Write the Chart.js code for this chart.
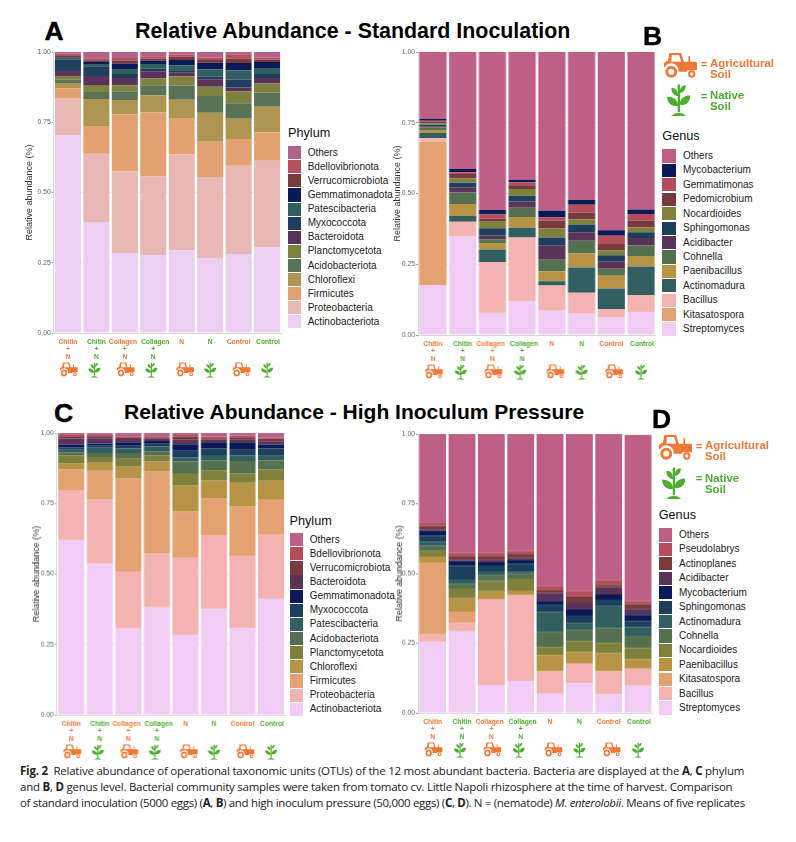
<!DOCTYPE html>
<html>
<head>
<meta charset="utf-8">
<title>Relative abundance</title>
<script src="https://cdn.jsdelivr.net/npm/chart.js@4"></script>
<style>
  html, body { margin: 0; padding: 0; background: #fff; }
  body { position: relative; width: 796px; height: 842px; overflow: hidden; font-family: "Liberation Sans", Arial, sans-serif; }
  canvas { position: absolute; }
  .txt { position: absolute; white-space: nowrap; line-height: 1; transform: translateY(-50%); }
  .head { font-weight: bold; font-size: 21.4px; color: #000; }
  .letter { font-weight: bold; font-size: 26.5px; color: #000; -webkit-text-stroke: 0.4px #000; }
  .swatch { position: absolute; }
  .soil { font-weight: bold; font-size: 11.4px; }
  .cap { font-family: "Open Sans", sans-serif; font-size: 11.5px; color: #222; }
  svg { position: absolute; }
</style>
</head>
<body>
<script>
const samples = [['Chitin', '+', 'N'], ['Chitin', '+', 'N'], ['Collagen', '+', 'N'], ['Collagen', '+', 'N'], 'N', 'N', 'Control', 'Control'];
const soils = ['ag', 'nat', 'ag', 'nat', 'ag', 'nat', 'ag', 'nat'];
const yTicks = [0, 0.25, 0.5, 0.75, 1];

// panel A, phylum, standard inoculation
const aActinobacteriota = [.705, .395, .285, .278, .294, .267, .281, .306];
const aProteobacteria = [.129, .243, .290, .279, .341, .288, .314, .307];
const aFirmicutes = [.037, .099, .204, .228, .128, .126, .096, .102];
const aChloroflexi = [.019, .096, .050, .061, .067, .103, .074, .090];
const aAcidobacteriota = [.012, .025, .032, .036, .051, .060, .053, .051];
const aPlanctomycetota = [.013, .022, .021, .024, .033, .033, .042, .032];
const aBacteroidota = [.018, .035, .026, .026, .012, .026, .014, .020];
const aMyxococcota = [.040, .035, .014, .009, .007, .010, .028, .014];
const aPatescibacteria = [.003, .008, .018, .017, .020, .026, .032, .021];
const aGemmatimonadota = [.005, .007, .019, .011, .019, .023, .027, .022];
const aVerrucomicrobiota = [.008, .006, .010, .007, .011, .010, .015, .009];
const aBdellovibrionota = [.006, .007, .010, .009, .008, .009, .016, .007];
const aOthers = [.005, .022, .021, .015, .009, .019, .008, .019];

// panel B, genus, standard inoculation
const bStreptomyces = [.175, .350, .079, .120, .087, .075, .063, .081];
const bKitasatospora = [.509, .002, .001, .001, .001, .001, .001, .001];
const bBacillus = [.011, .048, .178, .224, .087, .073, .028, .059];
const bActinomadura = [.019, .021, .044, .034, .015, .090, .072, .101];
const bPaenibacillus = [.011, .042, .023, .038, .035, .049, .045, .037];
const bCohnella = [.009, .041, .013, .033, .041, .045, .025, .037];
const bAcidibacter = [.004, .018, .014, .022, .051, .030, .027, .027];
const bSphingomonas = [.005, .016, .025, .020, .028, .028, .021, .020];
const bNocardioides = [.005, .016, .026, .024, .031, .017, .017, .017];
const bPedomicrobium = [.006, .015, .008, .013, .029, .025, .023, .025];
const bGemmatimonas = [.003, .006, .015, .011, .010, .027, .029, .023];
const bMycobacterium = [.007, .012, .016, .009, .024, .017, .019, .016];
const bOthers = [.236, .414, .558, .451, .561, .523, .630, .556];

// panel C, phylum, high inoculum
const cActinobacteriota = [.620, .537, .307, .382, .285, .376, .310, .412];
const cProteobacteria = [.177, .227, .202, .189, .274, .260, .256, .227];
const cFirmicutes = [.073, .102, .329, .292, .163, .131, .173, .124];
const cChloroflexi = [.0215, .028, .042, .036, .092, .064, .084, .067];
const cPlanctomycetota = [.0285, .021, .029, .021, .044, .037, .033, .040];
const cAcidobacteriota = [.012, .014, .020, .015, .041, .035, .045, .032];
const cPatescibacteria = [.009, .019, .016, .018, .014, .019, .019, .017];
const cMyxococcota = [.009, .007, .010, .009, .024, .024, .021, .026];
const cGemmatimonadota = [.009, .008, .012, .010, .023, .019, .024, .014];
const cBacteroidota = [.022, .019, .012, .008, .016, .011, .013, .012];
const cVerrucomicrobiota = [.008, .007, .006, .005, .011, .006, .007, .009];
const cBdellovibrionota = [.004, .004, .004, .004, .006, .006, .006, .003];
const cOthers = [.007, .007, .011, .011, .007, .012, .009, .017];

// panel D, genus, high inoculum
const dStreptomyces = [.254, .292, .101, .115, .069, .107, .067, .098];
const dBacillus = [.028, .031, .306, .306, .079, .069, .081, .060];
const dKitasatospora = [.258, .040, .003, .002, .001, .001, .001, .001];
const dPaenibacillus = [.021, .048, .026, .016, .059, .042, .066, .034];
const dNocardioides = [.019, .035, .037, .043, .029, .039, .036, .040];
const dCohnella = [.020, .017, .021, .017, .052, .038, .054, .044];
const dActinomadura = [.014, .016, .013, .007, .073, .027, .077, .031];
const dSphingomonas = [.021, .048, .022, .029, .024, .026, .025, .022];
const dMycobacterium = [.019, .017, .011, .015, .016, .022, .018, .022];
const dAcidibacter = [.004, .006, .010, .005, .028, .025, .027, .021];
const dActinoplanes = [.013, .012, .012, .016, .012, .023, .008, .017];
const dPseudolabrys = [.009, .011, .012, .010, .014, .017, .016, .011];
const dOthers = [.320, .427, .426, .419, .544, .564, .524, .596];

// bottom to top of the stack
const stackA = [['Actinobacteriota', aActinobacteriota], ['Proteobacteria', aProteobacteria], ['Firmicutes', aFirmicutes], ['Chloroflexi', aChloroflexi], ['Acidobacteriota', aAcidobacteriota], ['Planctomycetota', aPlanctomycetota], ['Bacteroidota', aBacteroidota], ['Myxococcota', aMyxococcota], ['Patescibacteria', aPatescibacteria], ['Gemmatimonadota', aGemmatimonadota], ['Verrucomicrobiota', aVerrucomicrobiota], ['Bdellovibrionota', aBdellovibrionota], ['Others', aOthers]];
const stackB = [['Streptomyces', bStreptomyces], ['Kitasatospora', bKitasatospora], ['Bacillus', bBacillus], ['Actinomadura', bActinomadura], ['Paenibacillus', bPaenibacillus], ['Cohnella', bCohnella], ['Acidibacter', bAcidibacter], ['Sphingomonas', bSphingomonas], ['Nocardioides', bNocardioides], ['Pedomicrobium', bPedomicrobium], ['Gemmatimonas', bGemmatimonas], ['Mycobacterium', bMycobacterium], ['Others', bOthers]];
const stackC = [['Actinobacteriota', cActinobacteriota], ['Proteobacteria', cProteobacteria], ['Firmicutes', cFirmicutes], ['Chloroflexi', cChloroflexi], ['Planctomycetota', cPlanctomycetota], ['Acidobacteriota', cAcidobacteriota], ['Patescibacteria', cPatescibacteria], ['Myxococcota', cMyxococcota], ['Gemmatimonadota', cGemmatimonadota], ['Bacteroidota', cBacteroidota], ['Verrucomicrobiota', cVerrucomicrobiota], ['Bdellovibrionota', cBdellovibrionota], ['Others', cOthers]];
const stackD = [['Streptomyces', dStreptomyces], ['Bacillus', dBacillus], ['Kitasatospora', dKitasatospora], ['Paenibacillus', dPaenibacillus], ['Nocardioides', dNocardioides], ['Cohnella', dCohnella], ['Actinomadura', dActinomadura], ['Sphingomonas', dSphingomonas], ['Mycobacterium', dMycobacterium], ['Acidibacter', dAcidibacter], ['Actinoplanes', dActinoplanes], ['Pseudolabrys', dPseudolabrys], ['Others', dOthers]];

const coloursA = ['#EBCEF2', '#E8B8B4', '#E3A172', '#AF9552', '#5A7255', '#7F813F', '#5A3358', '#1F3F5E', '#315F60', '#0A1A58', '#783A3C', '#B74F5F', '#B3628A'];
const coloursB = ['#F1CCF5', '#E4A272', '#F2B3B1', '#315F60', '#B79345', '#54704F', '#5A3358', '#1C3F5E', '#80803D', '#783A3C', '#B54D5C', '#0A1A58', '#BE5F86'];
const coloursC = ['#F1CCF5', '#F2B3B1', '#E4A272', '#B79345', '#80803D', '#54704F', '#315F60', '#1C3F5E', '#0A1A58', '#5A3358', '#783A3C', '#B54D5C', '#BE5F86'];
const coloursD = coloursC;

const ORANGE = '#EF7836';
const GREEN = '#4CAD2E';

// icon outlines, tractor on 100x75, plant on 70x100
const tractorPaths = [
  'M16 0H52L60 26H74V10H79V26H98L100 30V52H72A13 13 0 0 0 68 56H44A22 22 0 0 0 2 44L0 42V30L8 24H12ZM24 6H46L52 26H22Z',
  'M4 56a18 18 0 1 0 36 0a18 18 0 1 0-36 0ZM13 56a9 9 0 1 0 18 0a9 9 0 1 0-18 0Z',
  'M73 63a11 11 0 1 0 22 0a11 11 0 1 0-22 0ZM79 63a5 5 0 1 0 10 0a5 5 0 1 0-10 0Z'
];
const plantPaths = [
  'M32 12H39V88H32Z',
  'M12 100Q35 80 58 100Z',
  'M33 68C18 72 2 64 0 40C18 38 33 50 33 68Z',
  'M38 64C52 70 68 60 70 36C52 34 38 46 38 64Z',
  'M33 38C22 38 13 28 13 12C28 12 33 24 33 38Z',
  'M38 28C48 28 56 18 56 4C44 4 38 14 38 28Z',
  'M35 16C29 10 31 3 36 0C41 4 41 10 35 16Z'
];

// small sideways shift of the icons under each bar
const iconShift = [1, -2, 1, -2, 3.5, 0, 3, 0];
// spaces in front of (+) or behind (-) the first label line, keeps the Collagen pair apart
const labelPad = [0, 0, -2, 2, 0, 0, 0, 1];

const iconPlugin = {
  id: 'soilIcons',
  afterDraw(chart) {
    const ctx = chart.ctx;
    const xs = chart.scales.x;
    const y0 = chart.chartArea.bottom + 29.5;
    soils.forEach((soil, i) => {
      const cx = xs.getPixelForValue(i) + iconShift[i];
      const isAg = soil === 'ag';
      const w = isAg ? 17.5 : 12;
      const h = isAg ? 14 : 15;
      ctx.save();
      ctx.translate(cx - w / 2, y0);
      ctx.scale(w / (isAg ? 100 : 70), h / (isAg ? 75 : 100));
      ctx.fillStyle = isAg ? ORANGE : GREEN;
      (isAg ? tractorPaths : plantPaths).forEach(d => ctx.fill(new Path2D(d), 'evenodd'));
      ctx.restore();
    });
  }
};

function tickLabel(i) {
  const raw = samples[i];
  const lines = Array.isArray(raw) ? raw.slice() : [raw];
  const pad = ' '.repeat(Math.abs(labelPad[i]));
  lines[0] = labelPad[i] > 0 ? pad + lines[0] : lines[0] + pad;
  return lines;
}

function addText(text, x, y, cls, extra) {
  const el = document.createElement('div');
  el.className = 'txt ' + cls;
  el.innerHTML = text;
  el.style.left = x + 'px';
  el.style.top = y + 'px';
  if (extra) Object.assign(el.style, extra);
  document.body.appendChild(el);
  return el;
}

function addIcon(paths, vw, vh, x, y, w, h, colour) {
  const svg = document.createElementNS('http://www.w3.org/2000/svg', 'svg');
  svg.setAttribute('viewBox', `0 0 ${vw} ${vh}`);
  svg.setAttribute('width', w);
  svg.setAttribute('height', h);
  svg.setAttribute('preserveAspectRatio', 'none');
  svg.style.left = x + 'px';
  svg.style.top = y + 'px';
  paths.forEach(d => {
    const p = document.createElementNS('http://www.w3.org/2000/svg', 'path');
    p.setAttribute('d', d);
    p.setAttribute('fill', colour);
    p.setAttribute('fill-rule', 'evenodd');
    svg.appendChild(p);
  });
  document.body.appendChild(svg);
}

function drawPanel(stack, colours, box) {
  const canvas = document.createElement('canvas');
  const left = box.titleX - 6;
  const top = box.top - 4;
  const width = box.right - left + 2;
  const height = box.bottom - top + 48;
  canvas.width = width;
  canvas.height = height;
  canvas.style.left = left + 'px';
  canvas.style.top = top + 'px';
  canvas.style.width = width + 'px';
  canvas.style.height = height + 'px';
  document.body.appendChild(canvas);

  new Chart(canvas, {
    type: 'bar',
    data: {
      labels: samples,
      datasets: stack.map((s, i) => ({
        label: s[0],
        data: s[1],
        backgroundColor: colours[i],
        borderWidth: 0,
        categoryPercentage: 1,
        barPercentage: 0.915
      }))
    },
    plugins: [iconPlugin],
    options: {
      responsive: false,
      animation: false,
      devicePixelRatio: 1,
      layout: { padding: { top: 4, right: 2, left: 0, bottom: 0 } },
      plugins: { legend: { display: false }, tooltip: { enabled: false } },
      scales: {
        x: {
          stacked: true,
          grid: { display: false, drawTicks: false },
          border: { color: '#d8d8d8' },
          afterFit: scale => { scale.height = 48; },
          ticks: {
            autoSkip: false,
            maxRotation: 0,
            padding: 5,
            font: { family: '"Liberation Sans"', size: 6.7, weight: 'bold', lineHeight: 1.15 },
            color: ctx => soils[ctx.index] === 'ag' ? ORANGE : GREEN,
            callback: (v, i) => tickLabel(i)
          }
        },
        y: {
          stacked: true,
          min: 0,
          max: 1,
          afterFit: scale => { scale.width = box.left - left; },
          afterBuildTicks: scale => { scale.ticks = yTicks.map(v => ({ value: v })); },
          title: {
            display: true,
            text: 'Relative abundance (%)',
            font: { family: '"Liberation Sans"', size: 9 },
            color: '#333',
            padding: 0
          },
          grid: { color: '#efefef', tickColor: '#999', tickLength: 2 },
          border: { color: '#d8d8d8' },
          ticks: {
            padding: 1,
            font: { family: '"Liberation Sans"', size: 6.8 },
            color: '#666',
            callback: v => v.toFixed(2)
          }
        }
      }
    }
  });

  // legend, top entry is the top of the stack
  addText(box.legendTitle, box.legendX, box.legendTitleY, '', { fontSize: '12.7px', color: '#111' });
  const rows = stack.slice().reverse();
  const cols = colours.slice().reverse();
  rows.forEach((s, i) => {
    const cy = box.legendY + i * box.legendStep;
    const sw = document.createElement('div');
    sw.className = 'swatch';
    sw.style.cssText = `left:${box.legendX}px;top:${cy - 6.6}px;width:13.3px;height:13.2px;background:${cols[i]}`;
    document.body.appendChild(sw);
    addText(s[0], box.legendTextX, cy, '', { fontSize: '10px', color: '#222' });
  });
}

drawPanel(stackA, coloursA, { titleX: 29.5, left: 53.2, right: 283.2, top: 51, bottom: 333.3, legendTitle: 'Phylum', legendX: 288, legendTitleY: 133, legendY: 152.7, legendStep: 14.1, legendTextX: 307.7 });
drawPanel(stackB, coloursB, { titleX: 398, left: 418, right: 656.5, top: 51, bottom: 335, legendTitle: 'Genus', legendX: 662.3, legendTitleY: 136, legendY: 156, legendStep: 14.42, legendTextX: 683 });
drawPanel(stackC, coloursC, { titleX: 37.3, left: 57.2, right: 286.8, top: 432.3, bottom: 715, legendTitle: 'Phylum', legendX: 289.5, legendTitleY: 520.7, legendY: 539.7, legendStep: 14.13, legendTextX: 309.7 });
drawPanel(stackD, coloursD, { titleX: 400, left: 418, right: 654, top: 433.3, bottom: 713.3, legendTitle: 'Genus', legendX: 658.7, legendTitleY: 515.3, legendY: 535, legendStep: 14.42, legendTextX: 679 });

addText('Relative Abundance - Standard Inoculation', 135, 32, 'head');
addText('Relative Abundance - High Inoculum Pressure', 124, 411, 'head', { fontSize: '21px' });
addText('A', 44.5, 30.7, 'letter');
addText('B', 643, 35.7, 'letter');
addText('C', 54, 413, 'letter');
addText('D', 652, 419, 'letter');

function soilKey(x, y) {
  addIcon(tractorPaths, 100, 75, x, y, 33, 25, ORANGE);
  addText('=', x + 36.7, y + 12.3, 'soil', { color: ORANGE });
  addText('Agricultural', x + 46, y + 11, 'soil', { color: ORANGE });
  addText('Soil', x + 46, y + 22, 'soil', { color: ORANGE });
  addIcon(plantPaths, 70, 100, x + 2.7, y + 31.5, 23.5, 32, GREEN);
  addText('=', x + 36.7, y + 44, 'soil', { color: GREEN });
  addText('Native', x + 46, y + 43.6, 'soil', { color: GREEN });
  addText('Soil', x + 46, y + 54.6, 'soil', { color: GREEN });
}
soilKey(664, 52.7);
soilKey(659, 435);

addText('<b>Fig. 2</b>&nbsp; Relative abundance of operational taxonomic units (OTUs) of the 12 most abundant bacteria. Bacteria are displayed at the <b>A</b>, <b>C</b> phylum', 20, 771, 'cap', { letterSpacing: '-0.22px' });
addText('and <b>B</b>, <b>D</b> genus level. Bacterial community samples were taken from tomato cv. Little Napoli rhizosphere at the time of harvest. Comparison', 20, 787, 'cap', { letterSpacing: '-0.25px' });
addText('of standard inoculation (5000 eggs) (<b>A</b>, <b>B</b>) and high inoculum pressure (50,000 eggs) (<b>C</b>, <b>D</b>). N = (nematode) <i>M. enterolobii</i>. Means of five replicates', 20, 803, 'cap', { letterSpacing: '-0.32px' });
</script>
</body>
</html>
